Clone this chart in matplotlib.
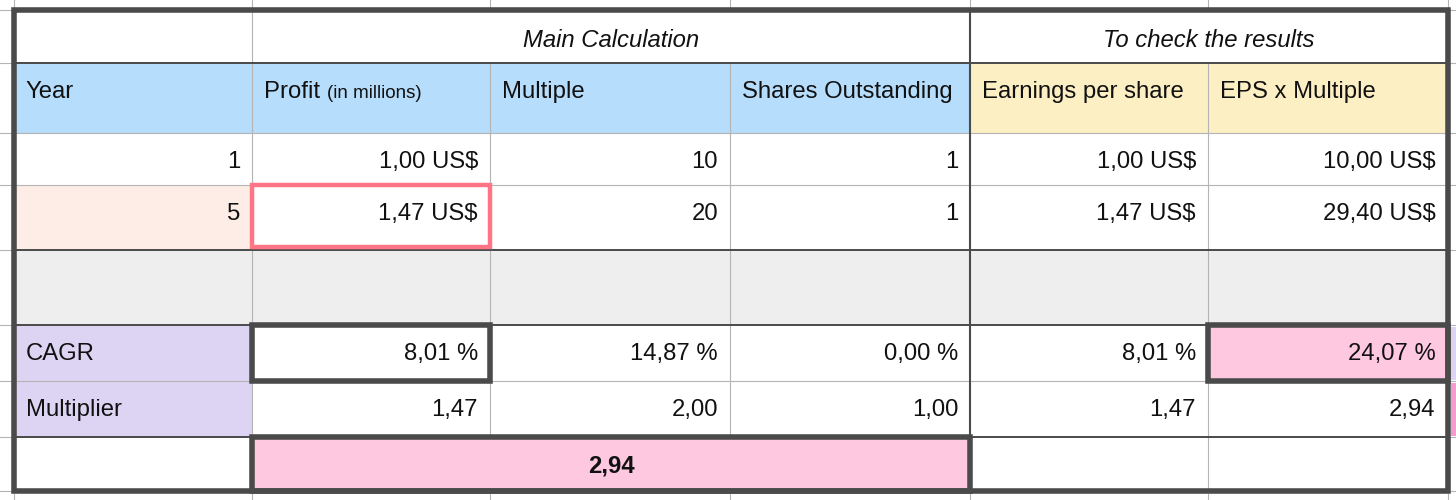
import matplotlib
matplotlib.use("Agg")
import matplotlib.pyplot as plt
from matplotlib.patches import Rectangle

plt.rcParams['font.family'] = ['Liberation Sans', 'DejaVu Sans']

# Данные таблицы
group_titles = ["Main Calculation", "To check the results"]
headers = ["Year", "Profit", "Multiple", "Shares Outstanding",
           "Earnings per share", "EPS x Multiple"]
profit_note = "(in millions)"
years = [1, 5]
profit = [1.00, 1.47]
multiple = [10, 20]
shares = [1, 1]
eps = [1.00, 1.47]
eps_x_multiple = [10.00, 29.40]
row_labels = ["CAGR", "Multiplier"]
cagr = [8.01, 14.87, 0.00, 8.01, 24.07]
multiplier = [1.47, 2.00, 1.00, 1.47, 2.94]
total_multiplier = 2.94

# Геометрия (пиксели)
col_edges = [13.5, 252, 490, 730, 970, 1208, 1447.5]
row_edges = [10, 63, 133, 185, 250, 325, 381, 437, 491]

BLUE = "#b6ddfb"
YELLOW = "#fcefc4"
PEACH = "#fdede6"
GRAY = "#eeeeee"
PURPLE = "#ddd4f3"
PINK = "#ffc8e1"
RED = "#ff7585"
DARK = "#4a4a4a"
THIN = "#b4b4b4"
FS = 17.2


def num(v, d=2):
    return f"{v:.{d}f}".replace(".", ",")


def money(v):
    return num(v) + " US$"


def pct(v):
    return num(v) + " %"


fig = plt.figure(figsize=(14.56, 5.0), dpi=100)
ax = fig.add_axes([0, 0, 1, 1])
ax.set_xlim(0, 1456)
ax.set_ylim(500, 0)
ax.axis("off")


def fill(c0, c1, r0, r1, color):
    x0, x1 = col_edges[c0], col_edges[c1]
    y0, y1 = row_edges[r0], row_edges[r1]
    ax.add_patch(Rectangle((x0, y0), x1 - x0, y1 - y0, facecolor=color,
                           edgecolor="none", zorder=1))


def frame(c0, c1, r0, r1, color, lw):
    x0, x1 = col_edges[c0], col_edges[c1]
    y0, y1 = row_edges[r0], row_edges[r1]
    ax.add_patch(Rectangle((x0, y0), x1 - x0, y1 - y0, facecolor="none",
                           edgecolor=color, linewidth=lw, joinstyle="miter",
                           zorder=6))


def text(c, r, s, align="right", **kw):
    if align == "right":
        x = col_edges[c + 1] - 12
    else:
        x = col_edges[c] + 12
    y = row_edges[r] + 35
    return ax.text(x, y, s, ha=align, va="baseline", fontsize=FS,
                   color="#111111", zorder=8, **kw)


# Заливки
fill(0, 4, 1, 2, BLUE)
fill(4, 6, 1, 2, YELLOW)
fill(0, 1, 3, 4, PEACH)
fill(0, 6, 4, 5, GRAY)
fill(0, 1, 5, 7, PURPLE)
fill(5, 6, 5, 6, PINK)
fill(1, 4, 7, 8, PINK)

# Соседние ячейки за рамкой
ax.add_patch(Rectangle((1451, row_edges[5] + 2), 5, row_edges[6] - row_edges[5] - 3,
                       facecolor=PURPLE, edgecolor="none", zorder=1))
ax.add_patch(Rectangle((1451, row_edges[6] + 2), 5, row_edges[7] - row_edges[6] - 3,
                       facecolor="#f59bd0", edgecolor="none", zorder=1))

# Тонкая сетка
for y in row_edges:
    ax.plot([0, 11], [y, y], color=THIN, lw=0.8, zorder=2)
    ax.plot([1450, 1456], [y, y], color=THIN, lw=0.8, zorder=2)
for x in col_edges:
    ax.plot([x, x], [0, 7], color=THIN, lw=0.8, zorder=2)
    ax.plot([x, x], [494, 500], color=THIN, lw=0.8, zorder=2)

for y in [row_edges[2], row_edges[3], row_edges[6]]:
    ax.plot([col_edges[0], col_edges[-1]], [y, y], color=THIN, lw=0.8, zorder=3)
for i in [1, 5]:
    x = col_edges[i]
    ax.plot([x, x], [row_edges[1], row_edges[8]], color=THIN, lw=0.8, zorder=3)
for i in [2, 3]:
    x = col_edges[i]
    ax.plot([x, x], [row_edges[1], row_edges[7]], color=THIN, lw=0.8, zorder=3)
ax.plot([col_edges[1], col_edges[1]], [row_edges[0], row_edges[1]],
        color=THIN, lw=0.8, zorder=3)

# Тёмные линии
for i in [1, 4, 5, 7]:
    y = row_edges[i]
    ax.plot([col_edges[0], col_edges[-1]], [y, y], color=DARK, lw=1.4, zorder=4)
ax.plot([col_edges[4], col_edges[4]], [row_edges[0], row_edges[-1]],
        color=DARK, lw=1.5, zorder=4)

# Рамки
frame(0, 6, 0, 8, DARK, 4.0)
frame(1, 2, 5, 6, DARK, 4.0)
frame(5, 6, 5, 6, DARK, 4.0)
frame(1, 4, 7, 8, DARK, 4.0)
ax.add_patch(Rectangle((col_edges[1], row_edges[3]), col_edges[2] - col_edges[1],
                       row_edges[4] - row_edges[3] - 3, facecolor="none",
                       edgecolor=RED, linewidth=3.2, joinstyle="miter", zorder=6))

# Заголовки групп
y_title = row_edges[0] + 37
ax.text((col_edges[1] + col_edges[4]) / 2, y_title, group_titles[0], ha="center",
        va="baseline", fontsize=FS, style="italic", color="#111111", zorder=8)
ax.text((col_edges[4] + col_edges[6]) / 2, y_title, group_titles[1], ha="center",
        va="baseline", fontsize=FS, style="italic", color="#111111", zorder=8)

# Шапка
for c, h in enumerate(headers):
    t = text(c, 1, h, align="left")
    if c == 1:
        fig.canvas.draw()
        bb = t.get_window_extent(renderer=fig.canvas.get_renderer())
        x_end = ax.transData.inverted().transform((bb.x1, bb.y0))[0]
        ax.text(x_end + 7, row_edges[1] + 35, profit_note, ha="left",
                va="baseline", fontsize=13.5, color="#111111", zorder=8)

# Строки с годами
for i in range(2):
    r = 2 + i
    text(0, r, str(years[i]))
    text(1, r, money(profit[i]))
    text(2, r, str(multiple[i]))
    text(3, r, str(shares[i]))
    text(4, r, money(eps[i]))
    text(5, r, money(eps_x_multiple[i]))

# CAGR и множитель
text(0, 5, row_labels[0], align="left")
text(0, 6, row_labels[1], align="left")
for c in range(5):
    text(c + 1, 5, pct(cagr[c]))
    text(c + 1, 6, num(multiplier[c]))

ax.text((col_edges[1] + col_edges[4]) / 2, row_edges[7] + 36, num(total_multiplier),
        ha="center", va="baseline", fontsize=FS, fontweight="bold",
        color="#111111", zorder=8)

fig.savefig("out.png", dpi=100)
